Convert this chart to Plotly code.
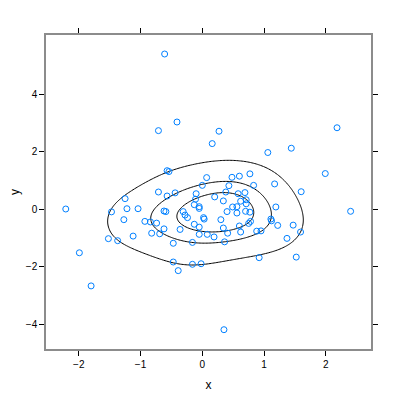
import numpy as np
import plotly.graph_objects as go

# point coordinates
x_vals = [
    -0.61, -0.41, -0.71, 0.27, 0.16, 1.06, 1.44, 2.18, -0.57, -0.54,
    0.07, 0.00, -0.71, -0.44, -0.57, -0.10, -0.11, -1.25, -2.21, -1.47,
    -1.22, -1.04, -0.62, -0.59, -0.13, -0.05, -0.05, -0.31, -0.28, -0.24,
    0.03, -1.27, -0.93, -0.84, -0.74, -0.13, -0.05, -0.62, -0.36, -0.05,
    0.08, -0.82, -0.69, -1.12, -1.52, -1.37, -0.47, -0.16, -1.99, -0.47,
    -0.16, -0.02, -0.39, 0.48, 0.60, 0.77, 1.99, 0.43, 0.83, 1.17,
    0.38, 0.58, 0.69, 1.60, 0.20, 0.71, 0.34, 0.62, 0.49, 0.56,
    0.40, 0.56, 0.70, 0.77, 1.19, 2.40, 0.30, 0.78, 0.75, 1.11,
    1.12, 1.22, 1.47, 0.34, 0.60, 0.62, 0.19, 0.41, 0.88, 0.95,
    1.59, 0.36, 1.37, 0.92, 1.52, -1.80, 0.35, 0.02, 0.71,
]
y_vals = [
    5.39, 3.03, 2.73, 2.71, 2.28, 1.97, 2.12, 2.83, 1.34, 1.31,
    1.10, 0.83, 0.60, 0.57, 0.46, 0.54, 0.35, 0.37, 0.01, -0.09,
    0.02, 0.02, -0.06, -0.08, 0.16, 0.09, 0.03, -0.08, -0.20, -0.29,
    -0.34, -0.36, -0.42, -0.44, -0.48, -0.52, -0.62, -0.68, -0.70, -0.87,
    -0.87, -0.83, -0.85, -0.93, -1.02, -1.09, -1.18, -1.15, -1.51, -1.83,
    -1.91, -1.89, -2.13, 1.11, 1.15, 1.23, 1.24, 0.82, 0.83, 0.88,
    0.60, 0.54, 0.58, 0.61, 0.43, 0.33, 0.29, 0.28, 0.08, 0.09,
    -0.08, -0.13, -0.07, -0.10, 0.08, -0.07, -0.36, -0.42, -0.49, -0.34,
    -0.40, -0.56, -0.55, -0.65, -0.58, -0.79, -0.96, -0.83, -0.76, -0.75,
    -0.79, -1.13, -1.01, -1.68, -1.66, -2.66, -4.18, -0.29, 0.19,
]
x_ticks = [-2, -1, 0, 1, 2]
y_ticks = [-4, -2, 0, 2, 4]

x = np.array(x_vals)
y = np.array(y_vals)
n = len(x)


def bw(v, k):
    q75, q25 = np.percentile(v, [75, 25])
    return k * 1.06 * min(v.std(ddof=1), (q75 - q25) / 1.34) * n ** (-0.2)


hx, hy = bw(x, 1.3), bw(y, 1.8)
gx = np.linspace(-2.6, 2.8, 120)
gy = np.linspace(-4.9, 6.0, 160)


def kde(px, py):
    ax = np.exp(-0.5 * ((px[..., None] - x) / hx) ** 2)
    ay = np.exp(-0.5 * ((py[..., None] - y) / hy) ** 2)
    return (ax * ay).sum(-1) / (n * 2 * np.pi * hx * hy)


GX, GY = np.meshgrid(gx, gy)
dens = kde(GX, GY)
at_pts = kde(x, y)
levels = np.quantile(at_pts, [0.22, 0.53, 0.75])

fig = go.Figure()
for lv in levels:
    fig.add_trace(go.Contour(
        x=gx, y=gy, z=dens,
        contours=dict(start=lv, end=lv, size=1, coloring="lines", showlabels=False),
        colorscale=[[0, "black"], [1, "black"]],
        line=dict(width=1, color="black", smoothing=1.3),
        showscale=False, hoverinfo="skip",
    ))

fig.add_trace(go.Scatter(
    x=x_vals, y=y_vals, mode="markers",
    marker=dict(symbol="circle-open", size=6, color="#0080ff", line=dict(width=1)),
    showlegend=False,
))

axis_style = dict(
    showgrid=False, zeroline=False, showline=True, linecolor="#8c8c8c",
    linewidth=1.5, mirror="ticks", ticks="outside", ticklen=5,
    tickcolor="black", tickfont=dict(size=10, color="black"),
    automargin=False,
)
fig.update_xaxes(range=[-2.53, 2.73], tickvals=x_ticks,
                 title=dict(text="x", font=dict(size=12, color="black"), standoff=12),
                 **axis_style)
fig.update_yaxes(range=[-4.85, 6.05], tickvals=y_ticks,
                 title=dict(text="y", font=dict(size=12, color="black"), standoff=20),
                 **axis_style)
fig.update_layout(
    width=400, height=400,
    margin=dict(l=38, r=37, t=27, b=59),
    plot_bgcolor="white", paper_bgcolor="white",
    font=dict(family="Liberation Sans, Arial, sans-serif"),
    showlegend=False,
)
fig.write_html("out.html")
